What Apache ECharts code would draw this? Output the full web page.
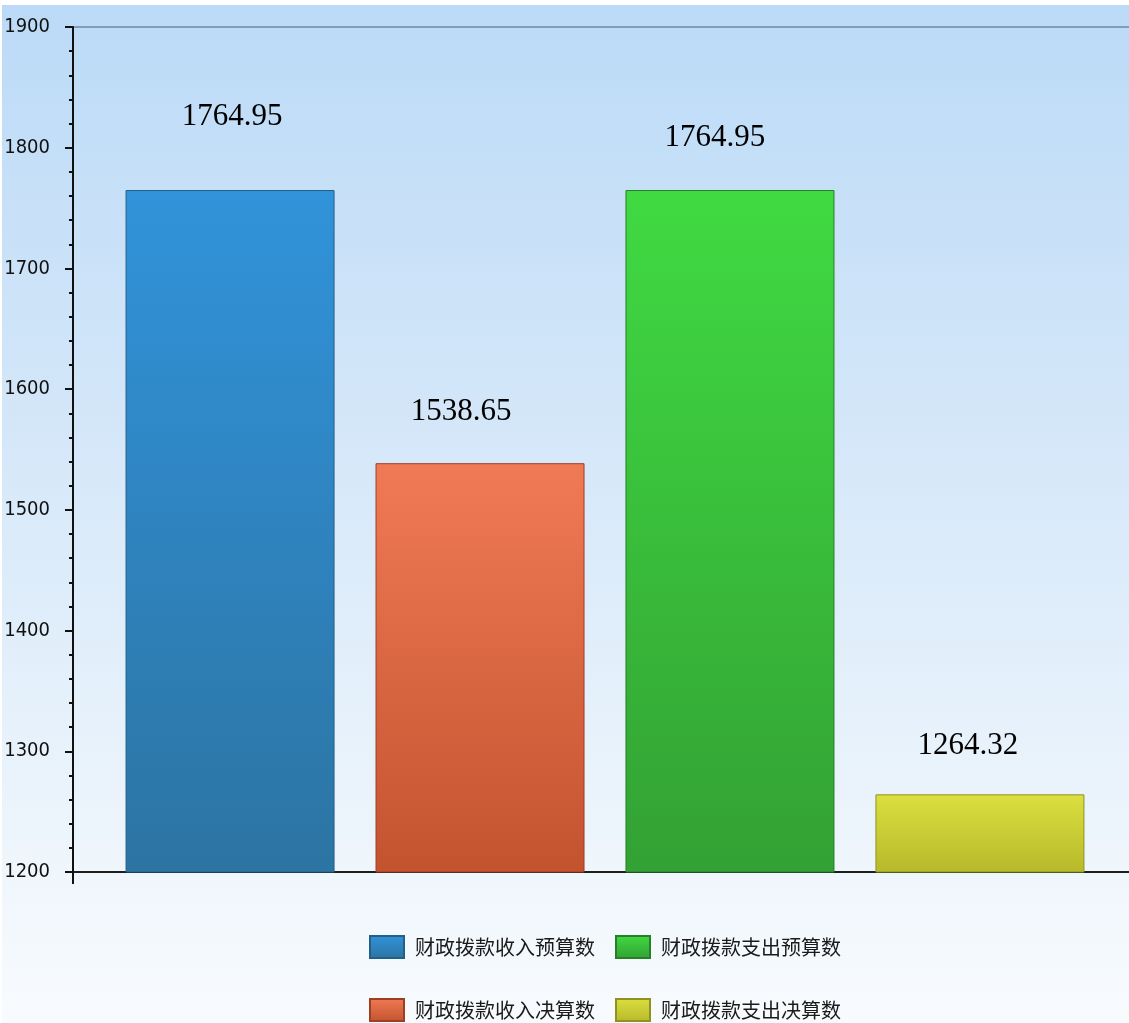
<!DOCTYPE html>
<html>
<head>
<meta charset="utf-8">
<script src="https://cdn.jsdelivr.net/npm/echarts@6/dist/echarts.min.js"></script>
<style>
html,body{margin:0;padding:0;background:#ffffff;}
#chart{position:absolute;left:0;top:0;width:1129px;height:1023px;}
</style>
</head>
<body>
<div id="chart"></div>
<script>
const seriesNames = ['财政拨款收入预算数', '财政拨款收入决算数', '财政拨款支出预算数', '财政拨款支出决算数'];
const seriesValues = [1764.95, 1538.65, 1764.95, 1264.32];
const yTicks = [1200, 1300, 1400, 1500, 1600, 1700, 1800, 1900];

const topColors = ['#3193da', '#f07a55', '#40da42', '#dcdf3e'];
const bottomColors = ['#2c74a3', '#c3532f', '#33a134', '#b7b92b'];
const borderColors = ['#245f88', '#9c3f22', '#277f27', '#8f9120'];
const legendColors = ['#2f86cf', '#ea6a40', '#2fd232', '#d8d92c'];
const labelDistance = [58, 36, 37, 33];
const labelOffsetX = [2, -19, -15, -12];
const legendLeft = [369, 369, 615, 615];
const legendTop = [935, 998, 935, 998];

const chart = echarts.init(document.getElementById('chart'), null, {renderer: 'canvas'});

const series = seriesNames.map((name, i) => ({
  name: name,
  type: 'bar',
  data: [seriesValues[i]],
  barWidth: 209,
  barGap: '19.6%',
  itemStyle: {
    color: new echarts.graphic.LinearGradient(0, 0, 0, 1, [
      {offset: 0, color: topColors[i]},
      {offset: 1, color: bottomColors[i]}
    ]),
    borderColor: borderColors[i],
    borderWidth: 1
  },
  label: {
    show: true,
    position: 'top',
    distance: labelDistance[i],
    offset: [labelOffsetX[i], 0],
    fontFamily: 'Liberation Serif, Times New Roman, serif',
    fontSize: 31,
    color: '#000000',
    formatter: (p) => p.value.toFixed(2)
  }
}));

const legends = seriesNames.map((name, i) => ({
  data: [name],
  left: legendLeft[i],
  top: legendTop[i],
  padding: 0,
  itemWidth: 34,
  itemHeight: 22,
  icon: 'rect',
  textStyle: {
    fontFamily: 'Noto Sans CJK SC',
    fontSize: 20,
    color: '#1a1a1a',
    padding: [0, 0, 0, 6]
  }
}));

chart.setOption({
  animation: false,
  backgroundColor: new echarts.graphic.LinearGradient(0, 0, 0, 1, [
    {offset: 0, color: '#bbdaf7'},
    {offset: 0.45, color: '#d6e8f9'},
    {offset: 0.85, color: '#eff6fc'},
    {offset: 1, color: '#f8fbfe'}
  ]),
  color: legendColors,
  grid: {left: 81, top: 27, right: 0, bottom: 151, containLabel: false},
  legend: legends,
  xAxis: [
    {
      type: 'category',
      data: [''],
      axisLine: {show: true, lineStyle: {color: '#1e1e1e', width: 2}},
      axisTick: {show: false},
      axisLabel: {show: false}
    },
    {
      type: 'category',
      position: 'top',
      data: [''],
      axisLine: {show: true, lineStyle: {color: '#7d9dbf', width: 2}},
      axisTick: {show: false},
      axisLabel: {show: false}
    }
  ],
  yAxis: {
    type: 'value',
    offset: 8,
    min: yTicks[0],
    max: yTicks[yTicks.length - 1],
    interval: 100,
    axisLine: {show: true, lineStyle: {color: '#111111', width: 2}},
    axisTick: {show: true, inside: false, length: 8, lineStyle: {color: '#111111', width: 2}},
    minorTick: {show: true, splitNumber: 5, length: 4, lineStyle: {color: '#111111', width: 2}},
    splitLine: {show: false},
    axisLabel: {
      margin: 23,
      fontFamily: 'Liberation Sans Narrow, DejaVu Sans Condensed, Roboto, sans-serif',
      fontSize: 20,
      color: '#111111',
      formatter: (v) => String(v)
    }
  },
  graphic: [
    {type: 'rect', shape: {x: 0, y: 0, width: 1129, height: 5}, style: {fill: '#ffffff'}, silent: true},
    {type: 'rect', shape: {x: 0, y: 0, width: 2, height: 1023}, style: {fill: '#ffffff'}, silent: true},
    {type: 'line', shape: {x1: 65, y1: 872, x2: 82, y2: 872}, style: {stroke: '#1e1e1e', lineWidth: 2}, silent: true},
    {type: 'line', shape: {x1: 73, y1: 27, x2: 82, y2: 27}, style: {stroke: '#7d9dbf', lineWidth: 2}, silent: true},
    {type: 'line', shape: {x1: 73, y1: 872, x2: 73, y2: 884}, style: {stroke: '#111111', lineWidth: 2}, silent: true}
  ],
  series: series
});
</script>
</body>
</html>
